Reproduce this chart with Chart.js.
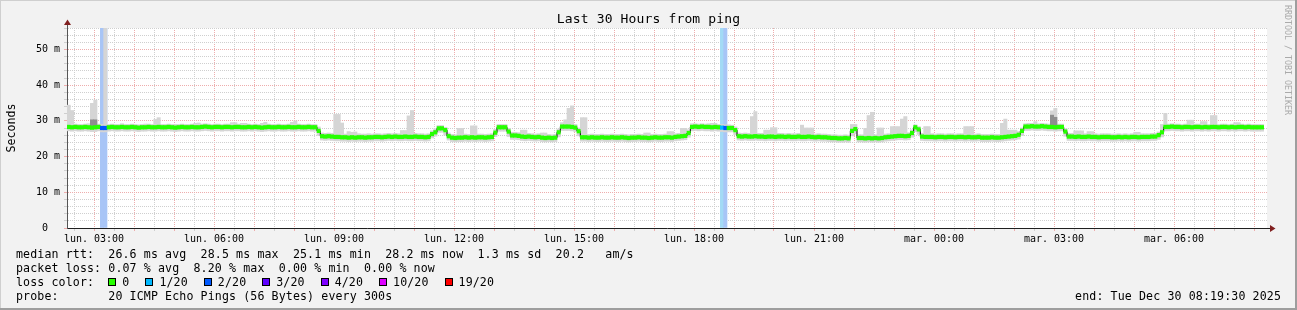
<!DOCTYPE html>
<html>
<head>
<meta charset="utf-8">
<title>Last 30 Hours from ping</title>
<script src="https://cdn.jsdelivr.net/npm/chart.js@4.4.1/dist/chart.umd.min.js"></script>
<style>
body { margin: 0; background: #fff; }
#wrap { position: relative; width: 1297px; height: 310px; background: #f2f2f2; overflow: hidden;
        font-family: 'DejaVu Sans Mono', monospace; color: #000; }
#wrap canvas { position: absolute; left: 0; top: 0; }
.edge { position: absolute; }
.txt { position: absolute; left: 16px; font-size: 11.6px; letter-spacing: 0.12px; line-height: 14px; white-space: pre; }
#lossrow { display: flex; align-items: center; }
#lossrow .item { display: flex; align-items: center; margin-right: 16px; }
#lossrow .box { width: 6px; height: 6px; border: 1px solid #000; margin-right: 6px; }
#lossrow .item:first-of-type { margin-left: 1.5px; }
#endtxt { position: absolute; right: 16px; top: 289px; font-size: 11.6px; letter-spacing: 0.12px; line-height: 14px; white-space: pre; }
#title { position: absolute; left: 0; width: 1297px; top: 12px; text-align: center; font-size: 13px; letter-spacing: 0.15px; line-height: 14px; white-space: pre; }
#credit { position: absolute; left: 1283px; top: 5px; writing-mode: vertical-rl; font-size: 8.3px; color: #aaa; white-space: pre; }
</style>
</head>
<body>
<div id="wrap">
  <canvas id="chart" width="1297" height="310"></canvas>
  <div class="edge" style="left:0;top:0;width:1297px;height:1px;background:#cfcfcf"></div>
  <div class="edge" style="left:0;top:0;width:1px;height:310px;background:#cfcfcf"></div>
  <div class="edge" style="right:0;top:0;width:2px;height:310px;background:#9e9e9e"></div>
  <div class="edge" style="left:0;bottom:0;width:1297px;height:2px;background:#9e9e9e"></div>
  <div id="title"></div>
  <div class="txt" id="rttline" style="top:247px"></div>
  <div class="txt" id="lossline" style="top:261px"></div>
  <div class="txt" id="lossrow" style="top:275px"></div>
  <div class="txt" id="probeline" style="top:289px"></div>
  <div id="endtxt"></div>
  <div id="credit">RRDTOOL / TOBI OETIKER</div>
</div>
<script>
// time axis in minutes from Monday 00:00
const startMin = 139.5;   // lun. 02:19:30
const endMin = 1939.5;    // mar. 08:19:30
const stepMin = 5;        // 300 s probe step
const yMax = 56;

// median rtt per step (ms)
const rttMedian = [
  28.3, 28.2, 28.3, 28.2, 28.2, 28.3, 28.2, 28.1, 28.2, 28.3, 28.0, 28.0,
  28.2, 28.3, 28.2, 28.2, 28.3, 28.2, 28.2, 28.3, 28.2, 28.1, 28.2, 28.2,
  28.3, 28.2, 28.2, 28.3, 28.2, 28.2, 28.3, 28.2, 28.1, 28.2, 28.3, 28.2,
  28.2, 28.3, 28.2, 28.2, 28.3, 28.4, 28.3, 28.2, 28.3, 28.3, 28.2, 28.3,
  28.3, 28.2, 28.3, 28.3, 28.2, 28.2, 28.3, 28.2, 28.3, 28.2, 28.1, 28.2,
  28.3, 28.2, 28.2, 28.3, 28.2, 28.2, 28.3, 28.2, 28.2, 28.3, 28.2, 28.2,
  28.3, 28.2, 28.2, 27.2, 25.7, 25.6, 25.7, 25.6, 25.5, 25.5, 25.4, 25.4,
  25.3, 25.4, 25.3, 25.4, 25.4, 25.3, 25.4, 25.4, 25.5, 25.5, 25.4, 25.5,
  25.6, 25.5, 25.6, 25.5, 25.5, 25.6, 25.5, 25.5, 25.6, 25.5, 25.5, 25.4,
  25.5, 26.3, 26.8, 27.9, 27.9, 27.4, 25.7, 25.3, 25.2, 25.3, 25.3, 25.4,
  25.3, 25.4, 25.3, 25.4, 25.4, 25.3, 25.4, 25.5, 26.7, 28.2, 28.2, 28.2,
  27.0, 25.9, 25.9, 25.8, 25.6, 25.5, 25.6, 25.5, 25.4, 25.5, 25.3, 25.2,
  25.3, 25.2, 25.3, 26.8, 28.4, 28.4, 28.4, 28.3, 28.1, 27.1, 25.4, 25.4,
  25.3, 25.4, 25.3, 25.3, 25.4, 25.3, 25.3, 25.4, 25.3, 25.3, 25.4, 25.3,
  25.2, 25.3, 25.3, 25.4, 25.3, 25.3, 25.2, 25.3, 25.4, 25.3, 25.3, 25.4,
  25.4, 25.3, 25.5, 25.6, 25.7, 25.8, 26.6, 28.3, 28.4, 28.3, 28.4, 28.3,
  28.3, 28.2, 28.3, 28.2, 28.1, 28.0, 28.0, 28.0, 27.4, 25.7, 25.6, 25.7,
  25.6, 25.6, 25.7, 25.6, 25.6, 25.5, 25.6, 25.6, 25.5, 25.6, 25.6, 25.5,
  25.6, 25.5, 25.5, 25.6, 25.5, 25.5, 25.6, 25.5, 25.4, 25.5, 25.4, 25.4,
  25.3, 25.2, 25.2, 25.1, 25.1, 25.2, 25.1, 27.2, 27.7, 25.2, 25.2, 25.1,
  25.2, 25.1, 25.2, 25.1, 25.2, 25.4, 25.5, 25.6, 25.7, 25.8, 25.8, 25.7,
  25.8, 26.6, 28.2, 27.6, 25.6, 25.5, 25.5, 25.5, 25.4, 25.5, 25.5, 25.4,
  25.5, 25.5, 25.4, 25.5, 25.5, 25.4, 25.5, 25.4, 25.4, 25.5, 25.3, 25.3,
  25.3, 25.4, 25.3, 25.3, 25.4, 25.5, 25.6, 25.7, 25.8, 26.1, 27.2, 28.4,
  28.4, 28.5, 28.4, 28.4, 28.5, 28.4, 28.3, 28.3, 28.2, 28.3, 28.3, 27.0,
  25.6, 25.6, 25.5, 25.6, 25.5, 25.5, 25.6, 25.5, 25.5, 25.4, 25.5, 25.5,
  25.5, 25.4, 25.4, 25.5, 25.4, 25.5, 25.4, 25.5, 25.5, 25.4, 25.5, 25.5,
  25.5, 25.6, 25.6, 26.0, 26.8, 28.3, 28.3, 28.4, 28.3, 28.3, 28.2, 28.3,
  28.3, 28.2, 28.3, 28.3, 28.2, 28.3, 28.2, 28.3, 28.3, 28.2, 28.3, 28.3,
  28.2, 28.3, 28.2, 28.3, 28.3, 28.2, 28.3, 28.2, 28.2, 28.2, 28.2
];

// smoke: lowest / highest ping per step (ms)
const smokeLow = [
  27.2, 27.1, 27.2, 27.1, 27.1, 27.2, 27.1, 27.0, 27.0, 27.2, 26.9, 26.9,
  27.1, 27.2, 27.1, 27.1, 27.2, 27.1, 27.1, 27.2, 27.1, 27.0, 27.1, 27.1,
  27.2, 27.1, 27.1, 27.2, 27.1, 27.1, 27.2, 27.1, 27.0, 27.1, 27.2, 27.1,
  27.1, 27.2, 27.1, 27.1, 27.2, 27.3, 27.2, 27.1, 27.2, 27.2, 27.1, 27.2,
  27.2, 27.1, 27.2, 27.2, 27.1, 27.1, 27.2, 27.1, 27.2, 27.1, 27.0, 27.1,
  27.2, 27.1, 27.1, 27.2, 27.1, 27.1, 27.2, 27.1, 27.1, 27.2, 27.1, 27.1,
  27.2, 27.1, 27.1, 25.9, 24.6, 24.5, 24.6, 24.5, 24.4, 24.4, 24.3, 24.3,
  24.2, 24.3, 24.2, 24.3, 24.3, 24.2, 24.3, 24.3, 24.4, 24.4, 24.3, 24.4,
  24.5, 24.4, 24.5, 24.4, 24.4, 24.5, 24.4, 24.4, 24.5, 24.4, 24.4, 24.3,
  24.4, 25.2, 25.7, 26.8, 26.8, 26.0, 24.6, 24.2, 24.1, 24.2, 24.2, 24.3,
  24.2, 24.3, 24.2, 24.3, 24.3, 24.2, 24.3, 24.4, 25.6, 27.1, 27.1, 27.1,
  25.6, 24.8, 24.8, 24.7, 24.5, 24.4, 24.5, 24.4, 24.3, 24.4, 24.2, 24.1,
  24.2, 24.1, 24.2, 25.5, 27.3, 27.3, 27.3, 27.2, 27.0, 25.8, 24.3, 24.3,
  24.2, 24.3, 24.2, 24.2, 24.3, 24.2, 24.2, 24.3, 24.2, 24.2, 24.3, 24.2,
  24.1, 24.2, 24.2, 24.3, 24.2, 24.2, 24.1, 24.2, 24.3, 24.2, 24.2, 24.3,
  24.3, 24.2, 24.4, 24.5, 24.6, 24.7, 25.4, 27.2, 27.3, 27.2, 27.3, 27.2,
  27.2, 27.1, 27.2, 27.1, 27.0, 26.9, 26.9, 26.9, 26.1, 24.6, 24.5, 24.6,
  24.5, 24.5, 24.6, 24.5, 24.5, 24.4, 24.5, 24.5, 24.4, 24.5, 24.5, 24.4,
  24.5, 24.4, 24.4, 24.5, 24.4, 24.4, 24.5, 24.4, 24.3, 24.4, 24.3, 24.3,
  24.2, 24.1, 24.1, 24.0, 24.0, 24.1, 24.0, 25.8, 26.4, 24.1, 24.1, 24.0,
  24.1, 24.0, 24.1, 24.0, 24.1, 24.3, 24.4, 24.5, 24.6, 24.7, 24.7, 24.6,
  24.7, 25.4, 27.0, 26.2, 24.5, 24.4, 24.4, 24.4, 24.3, 24.4, 24.4, 24.3,
  24.4, 24.4, 24.3, 24.4, 24.4, 24.3, 24.4, 24.3, 24.3, 24.4, 24.2, 24.2,
  24.2, 24.3, 24.2, 24.2, 24.3, 24.4, 24.5, 24.6, 24.7, 24.9, 25.9, 27.3,
  27.3, 27.4, 27.3, 27.3, 27.4, 27.3, 27.2, 27.2, 27.1, 27.2, 27.2, 25.7,
  24.5, 24.5, 24.4, 24.5, 24.4, 24.4, 24.5, 24.4, 24.4, 24.3, 24.4, 24.4,
  24.4, 24.3, 24.3, 24.4, 24.3, 24.4, 24.3, 24.4, 24.4, 24.3, 24.4, 24.4,
  24.4, 24.5, 24.5, 24.8, 25.5, 27.2, 27.2, 27.3, 27.2, 27.2, 27.1, 27.2,
  27.2, 27.1, 27.2, 27.2, 27.1, 27.2, 27.1, 27.2, 27.2, 27.1, 27.2, 27.2,
  27.1, 27.2, 27.1, 27.2, 27.2, 27.1, 27.2, 27.1, 27.1, 27.1, 27.1
];
const smokeHigh = [
  34.4, 32.9, 29.1, 29.0, 29.0, 29.1, 29.2, 34.9, 35.8, 29.1, 29.0, 56.0,
  29.0, 29.1, 29.0, 29.0, 29.2, 29.0, 29.0, 29.1, 29.0, 28.9, 29.0, 29.1,
  29.1, 29.0, 30.4, 30.9, 29.0, 29.0, 29.1, 29.0, 29.0, 29.0, 29.1, 29.0,
  29.0, 29.1, 29.3, 29.4, 29.1, 29.2, 29.1, 29.0, 29.1, 29.1, 29.0, 29.1,
  29.1, 29.5, 29.5, 29.1, 29.3, 29.3, 29.1, 29.0, 29.1, 29.0, 29.3, 29.6,
  29.1, 29.0, 29.0, 29.1, 29.0, 29.0, 29.1, 29.6, 30.0, 29.1, 29.0, 29.0,
  29.1, 29.0, 29.0, 28.3, 26.6, 26.5, 26.6, 26.5, 31.8, 31.8, 29.4, 26.3,
  27.0, 26.8, 26.9, 26.4, 26.3, 26.3, 26.4, 26.3, 26.4, 26.4, 26.3, 26.4,
  26.5, 26.4, 26.5, 26.4, 27.3, 27.3, 31.4, 32.9, 26.5, 26.4, 26.4, 26.3,
  26.4, 27.2, 27.8, 28.7, 28.7, 28.2, 26.6, 26.2, 26.1, 27.9, 27.9, 26.3,
  26.2, 28.6, 28.6, 26.3, 26.3, 26.2, 26.3, 26.4, 27.6, 29.0, 29.0, 29.0,
  27.9, 26.8, 26.8, 26.7, 27.4, 27.4, 26.5, 26.4, 26.3, 26.4, 26.6, 26.6,
  26.2, 26.1, 26.2, 27.7, 29.5, 30.3, 33.5, 34.2, 29.0, 28.0, 30.9, 30.9,
  26.2, 26.3, 26.2, 26.2, 26.3, 26.2, 26.2, 26.3, 26.2, 26.2, 26.3, 26.2,
  26.1, 26.2, 26.2, 26.3, 26.2, 26.6, 26.6, 26.2, 26.3, 26.2, 26.2, 26.3,
  27.0, 27.0, 26.4, 26.5, 27.9, 27.9, 27.5, 29.2, 29.2, 29.1, 29.2, 29.1,
  29.2, 29.3, 29.3, 29.0, 29.0, 28.9, 28.9, 28.8, 28.3, 26.6, 26.5, 26.6,
  26.5, 31.2, 32.6, 26.5, 26.5, 27.4, 27.4, 28.1, 28.1, 26.5, 26.5, 26.4,
  26.5, 26.4, 26.4, 26.5, 28.8, 28.0, 28.0, 28.0, 26.3, 26.4, 26.3, 26.3,
  26.2, 26.1, 26.1, 26.0, 26.0, 26.1, 26.0, 29.0, 29.0, 26.1, 26.1, 27.9,
  31.5, 32.4, 26.1, 28.0, 28.0, 26.3, 26.4, 28.4, 28.4, 28.4, 30.5, 31.2,
  26.7, 27.5, 28.9, 28.4, 26.5, 28.4, 28.4, 26.4, 26.3, 26.4, 26.4, 26.3,
  26.4, 26.4, 26.3, 26.4, 26.4, 28.4, 28.4, 28.4, 26.3, 26.4, 26.2, 26.2,
  26.2, 26.3, 26.2, 26.2, 29.3, 30.5, 27.4, 27.4, 27.4, 27.0, 28.0, 29.2,
  29.3, 29.3, 29.8, 29.2, 29.3, 29.2, 29.1, 32.8, 33.5, 29.1, 29.1, 27.8,
  26.5, 26.5, 27.2, 27.2, 27.2, 26.4, 27.0, 27.0, 26.4, 26.3, 26.4, 26.4,
  26.4, 26.3, 26.3, 26.4, 26.3, 26.4, 26.3, 26.4, 26.8, 26.8, 26.4, 26.4,
  26.4, 26.5, 26.5, 26.9, 29.0, 32.1, 29.1, 29.2, 29.1, 29.1, 29.0, 29.1,
  30.2, 30.2, 29.1, 29.1, 29.8, 29.8, 29.0, 31.5, 31.5, 29.0, 29.1, 29.1,
  29.0, 29.1, 29.5, 29.5, 29.1, 29.0, 29.1, 29.0, 29.0, 29.0, 29.0
];
// darker inner smoke: [step, low, high]
const darkSmoke = [[7, 28.3, 30.3], [8, 28.3, 30.3], [295, 28.4, 31.6], [296, 28.4, 31.0]];

// steps with lost pings: [step, pings lost out of 20]
const lossSteps = [[10, 2], [11, 2], [196, 1], [197, 2]];

const lossLabels = ['0', '1/20', '2/20', '3/20', '4/20', '10/20', '19/20'];
const lossCounts = [0, 1, 2, 3, 4, 10, 19];
const lossColors = ['#26ff00', '#00b8ff', '#0059ff', '#5e00ff', '#7e00ff', '#dd00ff', '#ff0000'];
const lossBgColors = { 1: '#a3daf5', 2: '#a8c5f6' };

const xTickLabels = ['lun. 03:00', 'lun. 06:00', 'lun. 09:00', 'lun. 12:00', 'lun. 15:00',
                     'lun. 18:00', 'lun. 21:00', 'mar. 00:00', 'mar. 03:00', 'mar. 06:00'];

const titleText = 'Last 30 Hours from ping';
const rttStats = ['26.6 ms avg', '28.5 ms max', '25.1 ms min', '28.2 ms now', '1.3 ms sd', '20.2   am/s'];
const lossStats = ['0.07 % avg', '8.20 % max', '0.00 % min', '0.00 % now'];
const probeText = '20 ICMP Echo Pings (56 Bytes) every 300s';
const endText = 'end: Tue Dec 30 08:19:30 2025';

// ---- text around the graph
document.getElementById('title').textContent = titleText;
document.getElementById('rttline').textContent = 'median rtt:  ' + rttStats.join('  ');
document.getElementById('lossline').textContent = 'packet loss: ' + lossStats.join('  ');
document.getElementById('probeline').textContent = 'probe:       ' + probeText;
document.getElementById('endtxt').textContent = endText;
const lossRow = document.getElementById('lossrow');
lossRow.appendChild(Object.assign(document.createElement('span'), { textContent: 'loss color:  ' }));
lossLabels.forEach((lab, k) => {
    const item = document.createElement('span');
    item.className = 'item';
    const box = document.createElement('span');
    box.className = 'box';
    box.style.background = lossColors[k];
    item.appendChild(box);
    item.appendChild(document.createTextNode(lab));
    lossRow.appendChild(item);
});

// ---- chart
const FONT = 'DejaVu Sans Mono';
const gridGrey = '#cfcfcf';
const gridRed = '#eeadad';

const midOf = i => startMin + i * stepMin + stepMin / 2;
const colorForLoss = n => lossColors[lossCounts.indexOf(n)];
const lossAt = {};
lossSteps.forEach(([i, n]) => { lossAt[i] = n; });

const xTickValues = [];
for (let m = Math.ceil(startMin / 30) * 30; m <= endMin; m += 30) xTickValues.push(m);

const medianLine = rttMedian.map((v, i) => ({ x: startMin + i * stepMin, y: v }));
medianLine.push({ x: startMin + rttMedian.length * stepMin, y: rttMedian[rttMedian.length - 1] });

const barBase = { type: 'bar', grouped: false, barPercentage: 1, categoryPercentage: 1, borderWidth: 0 };

const rrdFrame = {
    id: 'rrdFrame',
    beforeDraw(chart) {
        const { ctx, chartArea: a } = chart;
        ctx.save();
        ctx.fillStyle = '#ffffff';
        ctx.fillRect(a.left, a.top, a.right - a.left, a.bottom - a.top);
        ctx.restore();
    },
    afterDraw(chart) {
        const { ctx, chartArea: a } = chart;
        ctx.save();
        // axis extensions
        ctx.lineWidth = 1;
        ctx.strokeStyle = '#1f1f1f';
        ctx.beginPath();
        ctx.moveTo(a.right, Math.round(a.bottom) + 0.5);
        ctx.lineTo(a.right + 4, Math.round(a.bottom) + 0.5);
        ctx.stroke();
        ctx.strokeStyle = '#555';
        ctx.beginPath();
        ctx.moveTo(Math.round(a.left) + 0.5, a.top);
        ctx.lineTo(Math.round(a.left) + 0.5, a.top - 4);
        ctx.stroke();
        // arrow heads
        ctx.fillStyle = '#801f1f';
        const ax = Math.round(a.left) + 0.5;
        ctx.beginPath();
        ctx.moveTo(ax - 3.5, a.top - 3);
        ctx.lineTo(ax, a.top - 8.5);
        ctx.lineTo(ax + 3.5, a.top - 3);
        ctx.closePath();
        ctx.fill();
        const ay = Math.round(a.bottom) + 0.5;
        ctx.beginPath();
        ctx.moveTo(a.right + 3, ay - 3.5);
        ctx.lineTo(a.right + 8.5, ay);
        ctx.lineTo(a.right + 3, ay + 3.5);
        ctx.closePath();
        ctx.fill();
        ctx.restore();
    }
};

new Chart(document.getElementById('chart'), {
    type: 'bar',
    data: {
        datasets: [
            Object.assign({}, barBase, {
                label: 'loss',
                order: 5,
                data: lossSteps.map(([i]) => ({ x: midOf(i), y: [0, yMax] })),
                backgroundColor: lossSteps.map(([, n]) => lossBgColors[n])
            }),
            Object.assign({}, barBase, {
                label: 'smoke',
                order: 4,
                data: rttMedian.map((v, i) => ({ x: midOf(i), y: [smokeLow[i], smokeHigh[i]] })),
                backgroundColor: '#d5d5d5'
            }),
            Object.assign({}, barBase, {
                label: 'smoke dark',
                order: 3,
                data: darkSmoke.map(([i, lo, hi]) => ({ x: midOf(i), y: [lo, hi] })),
                backgroundColor: '#8e8e8e'
            }),
            {
                type: 'line',
                label: 'median',
                order: 2,
                data: medianLine,
                stepped: 'before',
                borderColor: '#000',
                borderWidth: 1,
                pointRadius: 0,
                fill: false
            },
            Object.assign({}, barBase, {
                label: 'median rtt',
                order: 1,
                data: rttMedian.map((v, i) => ({ x: midOf(i), y: [v - 0.5, v + 0.5] })),
                backgroundColor: rttMedian.map((v, i) => colorForLoss(lossAt[i] || 0))
            })
        ]
    },
    options: {
        responsive: false,
        animation: false,
        layout: { padding: { left: 0, right: 30, top: 28, bottom: 0 } },
        plugins: {
            legend: { display: false },
            tooltip: { enabled: false }
        },
        scales: {
            x: {
                type: 'linear',
                min: startMin,
                max: endMin,
                offset: false,
                afterBuildTicks: s => { s.ticks = xTickValues.map(v => ({ value: v })); },
                afterFit: s => { s.height = 82; },
                grid: {
                    offset: false,
                    tickLength: 3,
                    color: c => (c.tick && c.tick.value % 60 === 0 ? gridRed : gridGrey)
                },
                border: { color: '#1f1f1f', width: 1, dash: [1, 1] },
                ticks: {
                    autoSkip: false,
                    maxRotation: 0,
                    padding: 2,
                    color: '#000',
                    font: { family: FONT, size: 10 },
                    callback: v => (v % 180 === 0 ? xTickLabels[v / 180 - 1] : '')
                }
            },
            y: {
                min: 0,
                max: yMax,
                afterFit: s => { s.width = 67; },
                grid: {
                    tickLength: 3,
                    color: c => (c.tick && c.tick.value % 10 === 0 ? gridRed : gridGrey)
                },
                border: { color: '#555', width: 1, dash: [1, 1] },
                ticks: {
                    stepSize: 2,
                    autoSkip: false,
                    padding: 4,
                    color: '#000',
                    font: { family: FONT, size: 10 },
                    callback: v => (v % 10 === 0 ? (v === 0 ? '0  ' : v + ' m') : '')
                },
                title: {
                    display: true,
                    text: 'Seconds',
                    color: '#000',
                    font: { family: FONT, size: 11.6 },
                    padding: { top: 5, bottom: 0 }
                }
            }
        }
    },
    plugins: [rrdFrame]
});
</script>
</body>
</html>
